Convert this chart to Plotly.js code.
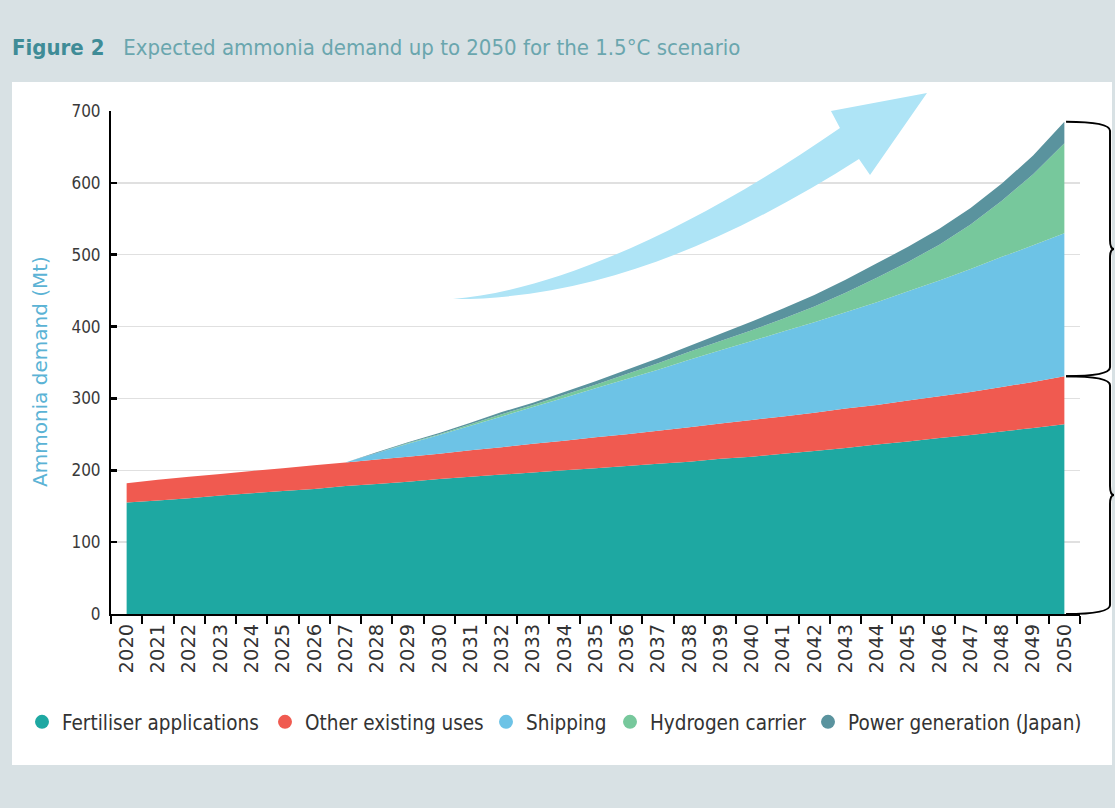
<!DOCTYPE html>
<html><head><meta charset="utf-8">
<script src="https://cdn.plot.ly/plotly-3.0.1.min.js"></script>
<style>html,body{margin:0;padding:0;background:#d8e1e4;}</style>
</head><body><div id="chart" style="width:1115px;height:808px;"></div>
<script>
const years = ["2020","2021","2022","2023","2024","2025","2026","2027","2028","2029","2030",
  "2031","2032","2033","2034","2035","2036","2037","2038","2039","2040",
  "2041","2042","2043","2044","2045","2046","2047","2048","2049","2050"];
const fertiliser = [155,158,161,165,168,171,174,178,181,184,188, 191,194,197,200,203,206,209,212,216,219, 223,227,231,236,240,245,249,254,259,264];
const otherUses  = [27,29,30,30,31,32,33,33,34,35,35, 37,38,40,41,43,44,46,48,49,51, 52,53,55,55,57,58,60,62,64,67];
const shipping   = [0,0,0,0,0,0,0,0,9,18,26, 34,43,51,60,68,77,85,94,102,110, 118,126,134,143,152,161,171,181,190,199];
const hydrogen   = [0,0,0,0,0,0,0,0,0,1,1, 2,3,3,4,5,7,9,11,13,15, 18,22,27,34,41,50,62,78,99,125];
const power      = [0,0,0,0,0,0,0,0,1,1,2, 2,3,3,4,5,6,7,8,10,12, 14,16,18,20,21,22,23,24,26,30];
const seriesNames = ["Fertiliser applications","Other existing uses","Shipping","Hydrogen carrier","Power generation (Japan)"];
const seriesColors = ["#1ea8a2","#f05a50","#6dc3e6","#77c89c","#5a939e"];
const seriesData = [fertiliser, otherUses, shipping, hydrogen, power];

const W = 1115, H = 808, ML = 111, MR = 35, MT = 111, MB = 194;
const PW = W - ML - MR, PH = H - MT - MB;
const YMAX = 700;
const NARROW = "'DejaVu Sans Condensed', 'Liberation Sans Narrow', sans-serif";
const WIDE = "'DejaVu Sans', Verdana, sans-serif";

function px(x){ return (x - ML) / PW; }
function py(y){ return (MT + PH - y) / PH; }
function P(x, y){ return px(x).toFixed(4) + ',' + py(y).toFixed(4); }

const traces = [];
seriesData.forEach((d, i) => {
  traces.push({
    type: 'scatter', x: years, y: d, stackgroup: 'one', mode: 'none',
    fillcolor: seriesColors[i], line: {width: 0, color: seriesColors[i]},
    showlegend: false, hoverinfo: 'skip', name: seriesNames[i]
  });
});
const legendIds = ['legend','legend2','legend3','legend4','legend5'];
const legendTextX = [24, 267, 488, 612, 810];
seriesNames.forEach((n, i) => {
  traces.push({
    type: 'scatter', x: [null], y: [null], mode: 'markers', name: n, legend: legendIds[i],
    marker: {color: seriesColors[i], size: 14, symbol: 'circle'}, hoverinfo: 'skip'
  });
});

const last = years.length - 1;
const totalLast = fertiliser[last] + otherUses[last] + shipping[last] + hydrogen[last] + power[last];
const existingLast = fertiliser[last] + otherUses[last];

function brace(yTopVal, yBotVal){
  const x0 = px(1066).toFixed(4), x1 = px(1110).toFixed(4), x2 = px(1114).toFixed(4);
  const yT = yTopVal / YMAX, yB = yBotVal / YMAX, yM = (yT + yB) / 2, d = 9 / PH;
  const f = v => v.toFixed(4);
  return `M ${x0},${f(yT)} Q ${x1},${f(yT)} ${x1},${f(yT - d)} L ${x1},${f(yM + d)} Q ${x1},${f(yM)} ${x2},${f(yM)} Q ${x1},${f(yM)} ${x1},${f(yM - d)} L ${x1},${f(yB + d)} Q ${x1},${f(yB)} ${x0},${f(yB)}`;
}

const arrowPath = 'M ' + P(453,299) + ' C ' + P(560,290) + ' ' + P(700,225) + ' ' + P(840,128) +
  ' L ' + P(831,111) + ' L ' + P(927,93) + ' L ' + P(870,175) + ' L ' + P(859,159) +
  ' C ' + P(740,235) + ' ' + P(600,300) + ' ' + P(453,299) + ' Z';

const layout = {
  width: W, height: H,
  margin: {l: ML, r: MR, t: MT, b: MB, pad: 0},
  paper_bgcolor: '#d8e1e4', plot_bgcolor: 'rgba(0,0,0,0)',
  title: {
    text: '<span style="font-weight:bold;color:#3f8c97">Figure 2</span>\u00A0\u00A0\u00A0Expected ammonia demand up to 2050 for the 1.5°C scenario',
    x: 12 / W, xref: 'container', xanchor: 'left',
    y: 1 - 47 / H, yref: 'container', yanchor: 'middle',
    font: {family: NARROW, size: 22, color: '#6aa6ae'}
  },
  xaxis: {
    type: 'category', range: [-0.5, years.length - 0.5], tickson: 'boundaries',
    ticks: 'outside', ticklen: 8, tickwidth: 2, tickcolor: '#000',
    showline: true, linecolor: '#000', linewidth: 2, showgrid: false, zeroline: false,
    tickangle: -90, tickfont: {family: WIDE, size: 19.5, color: '#333'}, fixedrange: true
  },
  yaxis: {
    range: [0, YMAX], dtick: 100, tick0: 0,
    ticks: 'inside', ticklen: 6, tickwidth: 2.5, tickcolor: '#000',
    showline: true, linecolor: '#000', linewidth: 2,
    showgrid: true, gridcolor: '#e0e0e0', gridwidth: 1.5, zeroline: false,
    tickfont: {family: NARROW, size: 17, color: '#3a3a3a'}, ticklabelstandoff: 5, fixedrange: true
  },
  showlegend: true,
  annotations: [{
    text: 'Ammonia demand (Mt)', xref: 'paper', yref: 'paper', x: px(40), y: py(372),
    textangle: -90, showarrow: false, xanchor: 'center', yanchor: 'middle',
    font: {family: WIDE, size: 20, color: '#5bb3d5'}
  }],
  shapes: [
    {type: 'rect', xref: 'paper', yref: 'paper', x0: px(12), x1: px(1112), y0: py(765), y1: py(82),
     fillcolor: '#ffffff', line: {width: 0}, layer: 'below'},
    {type: 'path', xref: 'paper', yref: 'paper', path: arrowPath, fillcolor: '#aee4f6', line: {width: 0}, layer: 'above'},
    {type: 'path', xref: 'paper', yref: 'paper', path: brace(totalLast, existingLast), fillcolor: 'rgba(0,0,0,0)', line: {color: '#000', width: 2}},
    {type: 'path', xref: 'paper', yref: 'paper', path: brace(existingLast, 0), fillcolor: 'rgba(0,0,0,0)', line: {color: '#000', width: 2}}
  ]
};
legendIds.forEach((id, i) => {
  layout[id] = {
    orientation: 'h', x: px(legendTextX[i] - 2), xanchor: 'left', y: py(722), yanchor: 'middle',
    font: {family: NARROW, size: 20.5, color: '#333'}, bgcolor: 'rgba(0,0,0,0)', borderwidth: 0
  };
});

Plotly.newPlot('chart', traces, layout, {displayModeBar: false, staticPlot: true});
</script>
</body></html>
